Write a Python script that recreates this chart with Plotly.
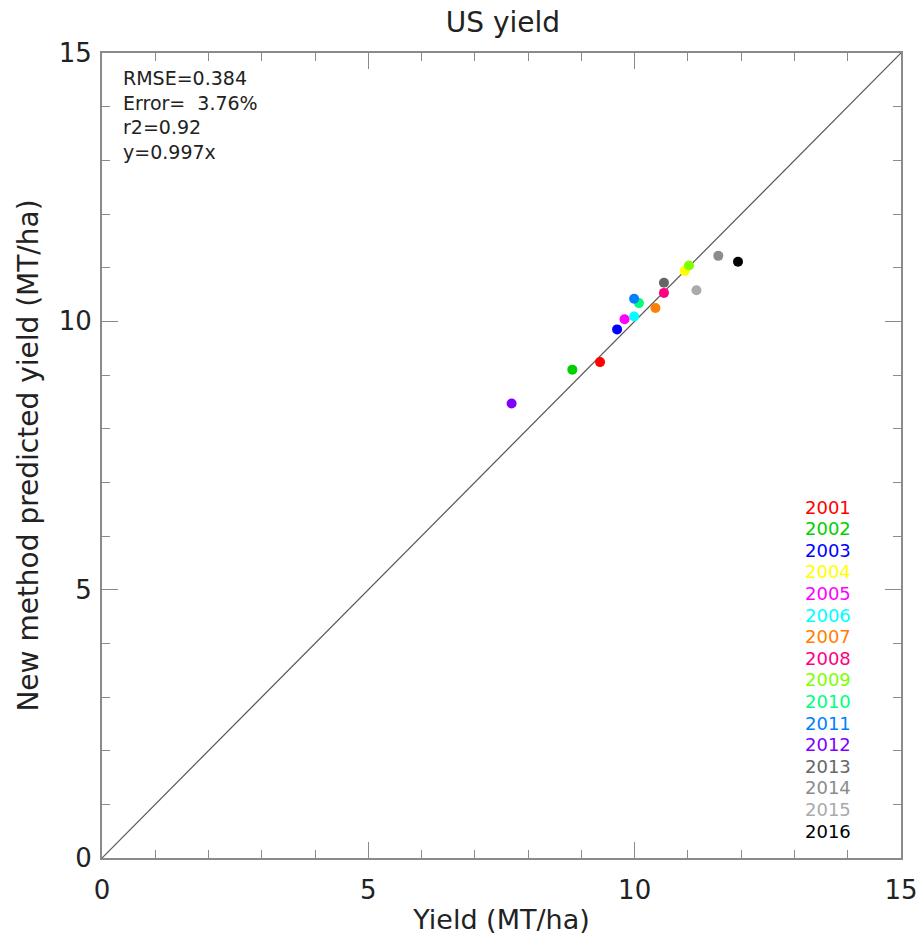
import plotly.graph_objects as go

years = ["2001", "2002", "2003", "2004", "2005", "2006", "2007", "2008",
         "2009", "2010", "2011", "2012", "2013", "2014", "2015", "2016"]
colors = ["#FF0000", "#00D000", "#0000FF", "#FFFF00", "#FF00FF", "#00FFFF",
          "#FF7F00", "#FF007F", "#7FFF00", "#00FF7F", "#007FFF", "#7F00FF",
          "#666666", "#8C8C8C", "#AAAAAA", "#000000"]
observed = [9.35, 8.83, 9.67, 10.94, 9.81, 9.99, 10.39, 10.55,
            11.02, 10.08, 9.99, 7.69, 10.55, 11.57, 11.16, 11.94]
predicted = [9.24, 9.10, 9.85, 10.94, 10.04, 10.09, 10.25, 10.53,
             11.04, 10.34, 10.42, 8.47, 10.72, 11.22, 10.58, 11.11]
one_to_one = [0, 15]
stats_text = ["RMSE=0.384", "Error=\u00a0\u00a03.76%", "r2=0.92", "y=0.997x"]

FONT = "DejaVu Sans"
TXT = "#222222"
AX = "#8a8a8a"

fig = go.Figure()
fig.add_trace(go.Scatter(x=one_to_one, y=one_to_one, mode="lines",
                         line=dict(color="#555555", width=1.2),
                         showlegend=False, hoverinfo="skip"))
for yr, c, xo, yp in zip(years, colors, observed, predicted):
    fig.add_trace(go.Scatter(x=[xo], y=[yp], mode="markers", name=yr,
                             marker=dict(color=c, size=10, symbol="circle",
                                         line=dict(width=0)),
                             showlegend=False))

annotations = [
    dict(text="<br>".join(stats_text), xref="paper", yref="paper",
         x=0.024, y=0.985, xanchor="left", yanchor="top",
         align="left", showarrow=False,
         font=dict(family=FONT, size=19, color=TXT)),
]
# year legend as a column of coloured labels
for i, (yr, c) in enumerate(zip(years, colors)):
    py = 507 + i * 21.6
    annotations.append(dict(text=yr, xref="paper", yref="paper",
                            x=(853 - 102) / 799.0, y=(858 - py) / 805.0,
                            xanchor="right", yanchor="middle", showarrow=False,
                            font=dict(family=FONT, size=18, color=c)))

axis_common = dict(range=[0, 15], tickvals=[0, 5, 10, 15],
                   showline=True, linecolor=AX, linewidth=2, mirror="ticks",
                   ticks="inside", ticklen=16, tickwidth=1.2, tickcolor=AX,
                   minor=dict(dtick=1, ticks="inside", ticklen=8,
                              tickwidth=1.2, tickcolor=AX),
                   showgrid=False, zeroline=False, automargin=False,
                   tickfont=dict(family=FONT, size=26, color=TXT))

fig.update_layout(
    width=919, height=941, autosize=False,
    margin=dict(l=102, r=18, t=53, b=83, autoexpand=False),
    paper_bgcolor="white", plot_bgcolor="white",
    title=dict(text="US yield", x=(503) / 919, xanchor="center",
               y=1 - 22 / 941, yanchor="middle",
               font=dict(family=FONT, size=28, color=TXT)),
    xaxis=dict(**axis_common,
               title=dict(text="Yield (MT/ha)", standoff=6,
                          font=dict(family=FONT, size=27, color=TXT)),
               ticklabelstandoff=8),
    yaxis=dict(**axis_common,
               title=dict(text="New method predicted yield (MT/ha)", standoff=12,
                          font=dict(family=FONT, size=28, color=TXT)),
               ticklabelstandoff=3),
    annotations=annotations,
)

fig.write_html("out.html", config={"responsive": False},
               default_width="919px", default_height="941px")
